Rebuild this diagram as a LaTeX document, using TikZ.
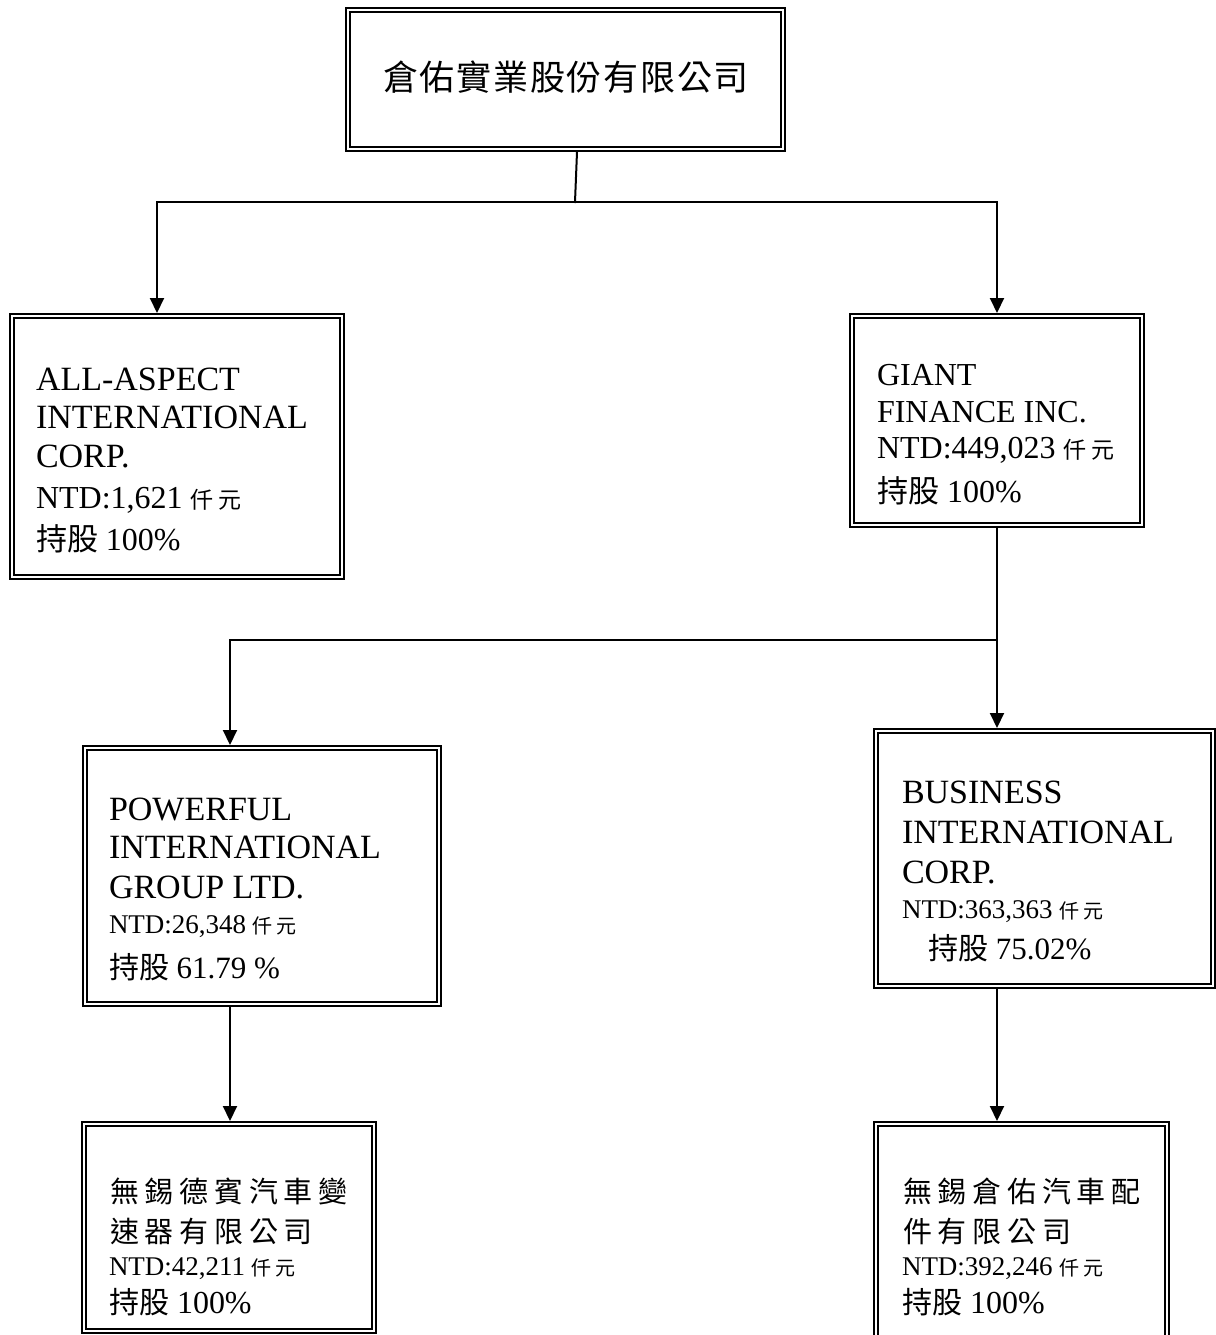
\documentclass[tikz,border=0pt]{standalone}
\usepackage{fontspec}
\setmainfont{Liberation Serif}
\newfontfamily\cjk{Noto Sans CJK TC}
\newfontfamily\cjkT[LetterSpace=5]{Noto Sans CJK TC}
\newfontfamily\cjkW[LetterSpace=20]{Noto Sans CJK TC}
\usetikzlibrary{arrows.meta}
\newcommand\fs[1]{\fontsize{#1}{#1}\selectfont}
\newcommand\qy[1]{{\cjkW\fs{#1}仟元}}
\newcommand\cg[1]{{\cjk\fs{#1}持股}}
\begin{document}
\begin{tikzpicture}[x=0.5pt,y=-0.5pt,
 box/.style={draw, double=white, double distance=1pt, line width=1pt, inner sep=0pt, outer sep=1.5pt},
 tx/.style={anchor=base west, inner sep=0pt, outer sep=0pt},
 link/.style={line width=1pt, line cap=rect},
 arr/.style={line width=1pt, -{Triangle[length=7.5pt,width=7pt]}}]
\useasboundingbox (0,0) rectangle (1216,1335);

% boxes
\node[box, minimum width=217.5pt, minimum height=69.5pt] (top) at (565.5,79.5) {};
\node[box, minimum width=165pt, minimum height=130.5pt] (A) at (177,446.5) {};
\node[box, minimum width=145pt, minimum height=104.5pt] (G) at (997,420.5) {};
\node[box, minimum width=177pt, minimum height=128pt] (P) at (262,876) {};
\node[box, minimum width=168.5pt, minimum height=127.5pt] (B) at (1044.5,858.5) {};
\node[box, minimum width=145pt, minimum height=103.5pt] (W1) at (229,1227.5) {};
\node[box, minimum width=145.5pt, minimum height=109pt] (W2) at (1021.5,1233) {};

% title
\node[inner sep=0pt] (title) at (566,77) {\cjkT\fs{17.5}倉佑實業股份有限公司};

% box A
\node[tx,font=\fs{17}] (a1) at (36,390) {ALL-ASPECT};
\node[tx,font=\fs{17}] (a2) at (36,428) {INTERNATIONAL};
\node[tx,font=\fs{17}] (a3) at (36,467) {CORP.};
\node[tx,font=\fs{16}] (a4) at (36,508) {NTD:1,621 \qy{11.5}};
\node[tx,font=\fs{16}] (a5) at (36,550) {\cg{15.5} 100\%};

% box G
\node[tx,font=\fs{16}] (g1) at (877,385) {GIANT};
\node[tx,font=\fs{16}] (g2) at (877,422) {FINANCE INC.};
\node[tx,font=\fs{16}] (g3) at (877,458) {NTD:449,023 \qy{11.5}};
\node[tx,font=\fs{16}] (g4) at (877,502) {\cg{15.5} 100\%};

% box P
\node[tx,font=\fs{17}] (p1) at (109,820) {POWERFUL};
\node[tx,font=\fs{17}] (p2) at (109,858) {INTERNATIONAL};
\node[tx,font=\fs{17}] (p3) at (109,898) {GROUP LTD.};
\node[tx,font=\fs{13.5}] (p4) at (109,933) {NTD:26,348 \qy{10}};
\node[tx,font=\fs{15.5}] (p5) at (109,978) {\cg{15} 61.79 \%};

% box B
\node[tx,font=\fs{17}] (b1) at (902,803) {BUSINESS};
\node[tx,font=\fs{17}] (b2) at (902,843) {INTERNATIONAL};
\node[tx,font=\fs{17}] (b3) at (902,883) {CORP.};
\node[tx,font=\fs{13.5}] (b4) at (902,918) {NTD:363,363 \qy{10}};
\node[tx,font=\fs{15.5}] (b5) at (928,959) {\cg{15} 75.02\%};

% box W1
\node[tx] (w1a) at (110,1202) {\cjkW\fs{14.5}無錫德賓汽車變};
\node[tx] (w1b) at (110,1242) {\cjkW\fs{14.5}速器有限公司};
\node[tx,font=\fs{13.5}] (w1c) at (109,1275) {NTD:42,211 \qy{10}};
\node[tx,font=\fs{16}] (w1d) at (109,1313) {\cg{15} 100\%};

% box W2
\node[tx] (w2a) at (903,1202) {\cjkW\fs{14.5}無錫倉佑汽車配};
\node[tx] (w2b) at (903,1242) {\cjkW\fs{14.5}件有限公司};
\node[tx,font=\fs{13.5}] (w2c) at (902,1275) {NTD:392,246 \qy{10}};
\node[tx,font=\fs{16}] (w2d) at (902,1313) {\cg{15} 100\%};

% connectors
\coordinate (j0) at (577,0);
\coordinate (j1) at (575,202);
\coordinate (jL) at (157,202);
\coordinate (jR) at (997,202);
\draw[link] (top.south -| j0) -- (j1);
\draw[link] (jL) -- (jR);
\draw[arr] (jL) -- (jL |- A.north);
\draw[arr] (jR) -- (jR |- G.north);
\coordinate (k1) at (997,640);
\coordinate (kL) at (230,640);
\draw[link] (G.south) -- (k1);
\draw[link] (kL) -- (k1);
\draw[arr] (kL) -- (kL |- P.north);
\draw[arr] (k1) -- (k1 |- B.north);
\draw[arr] (P.south -| kL) -- (kL |- W1.north);
\draw[arr] (B.south -| k1) -- (k1 |- W2.north);
\end{tikzpicture}
\end{document}
